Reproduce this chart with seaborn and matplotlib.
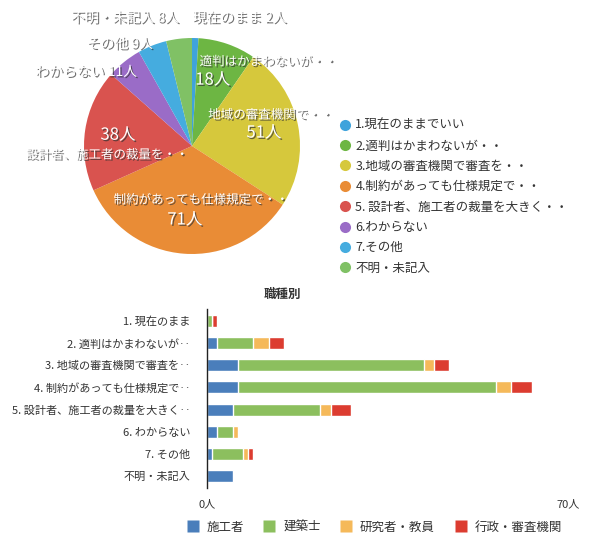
import numpy as np
import pandas as pd
import seaborn as sns
import matplotlib.pyplot as plt
import matplotlib.patheffects as pe
from matplotlib.lines import Line2D

# pie: answers
pie_labels = ['1.現在のままでいい', '2.適判はかまわないが・・', '3.地域の審査機関で審査を・・',
              '4.制約があっても仕様規定で・・', '5. 設計者、施工者の裁量を大きく・・',
              '6.わからない', '7.その他', '不明・未記入']
pie_values = [2, 18, 51, 71, 38, 11, 9, 8]
pie_colors = ['#3fa3dc', '#6db643', '#d6c83c', '#e98c36', '#d9534f', '#9a6cc7', '#45acdf', '#80c165']

# bar: answers by occupation
bar_cats = ['1. 現在のまま', '2. 適判はかまわないが‥', '3. 地域の審査機関で審査を‥',
            '4. 制約があっても仕様規定で‥', '5. 設計者、施工者の裁量を大きく‥',
            '6. わからない', '7. その他', '不明・未記入']
jobs = ['施工者', '建築士', '研究者・教員', '行政・審査機関']
builder = [0, 2, 6, 6, 5, 2, 1, 5]
architect = [1, 7, 36, 50, 17, 3, 6, 0]
researcher = [0, 3, 2, 3, 2, 1, 1, 0]
admin = [1, 3, 3, 4, 4, 0, 1, 0]
job_colors = ['#4a7ebb', '#8cbf5e', '#f5b95a', '#dc3c30']

sns.set_theme(style='white')
plt.rcParams['font.family'] = ['Noto Sans CJK JP', 'DejaVu Sans']

fig = plt.figure(figsize=(5.9, 5.54), dpi=100)

# ---- pie ----
ax1 = fig.add_axes([84 / 590, (554 - 146 - 108) / 554, 216 / 590, 216 / 554])
ax1.pie(pie_values, colors=pie_colors, startangle=90, counterclock=False,
        wedgeprops=dict(linewidth=0))
ax1.set_xlim(-1, 1)
ax1.set_ylim(-1, 1)
ax1.set_aspect('equal')
ax1.axis('off')

shadow = [pe.SimplePatchShadow(offset=(1, -1), shadow_rgbFace='#333333', alpha=0.7), pe.Normal()]
pie_texts = [
    ('現在のまま 2人', 0.44, 1.185, 'center', 10),
    ('不明・未記入 8人', -0.62, 1.185, 'center', 10),
    ('その他 9人', -0.67, 0.944, 'center', 10),
    ('わからない 11人', -0.98, 0.685, 'center', 10),
    ('適判はかまわないが・・', 0.07, 0.78, 'left', 9),
    ('18人', 0.03, 0.61, 'left', 12),
    ('地域の審査機関で・・', 0.15, 0.287, 'left', 9),
    ('51人', 0.667, 0.12, 'center', 12),
    ('38人', -0.685, 0.10, 'center', 12),
    ('設計者、施工者の裁量を・・', -0.787, -0.083, 'center', 9),
    ('制約があっても仕様規定で・・', 0.083, -0.5, 'center', 9),
    ('71人', -0.065, -0.685, 'center', 12),
]
for txt, x, y, ha, fs in pie_texts:
    ax1.text(x, y, txt, ha=ha, va='center', fontsize=fs, color='white',
             path_effects=shadow)

handles = [Line2D([0], [0], marker='o', linestyle='', markersize=8,
                  markerfacecolor=c, markeredgecolor='none') for c in pie_colors]
fig.legend(handles, pie_labels, loc='upper left', bbox_to_anchor=(334 / 590, 1 - 114 / 554),
           frameon=False, fontsize=9, labelspacing=0.59, handletextpad=0.3,
           handlelength=1.0, borderaxespad=0, labelcolor='#333333')

# ---- stacked bar ----
ax2 = fig.add_axes([207 / 590, 66 / 554, 361 / 590, 179 / 554])
df = pd.DataFrame({'cat': bar_cats, '施工者': builder, '建築士': architect,
                   '研究者・教員': researcher, '行政・審査機関': admin})
cum = df[jobs].cumsum(axis=1)
for job, col in reversed(list(zip(jobs, job_colors))):
    sns.barplot(x=cum[job], y=df['cat'], orient='h', color=col, width=0.54,
                saturation=1, ax=ax2)
ax2.set_xlim(0, 70)
ax2.set_ylim(7.53, -0.53)
ax2.set_xticks([0, 70])
ax2.set_xticklabels(['0人', '70人'])
ax2.set_xlabel('')
ax2.set_ylabel('')
ax2.tick_params(axis='both', length=0, labelsize=8, colors='#333333')
ax2.tick_params(axis='x', pad=8)
ax2.tick_params(axis='y', pad=12)
for s in ['top', 'right', 'bottom']:
    ax2.spines[s].set_visible(False)
ax2.spines['left'].set_color('#222222')
ax2.spines['left'].set_linewidth(1)
fig.text(282 / 590, 1 - 294 / 554, '職種別', ha='center', va='center', fontsize=9,
         fontweight='bold', color='#333333')

bh = [Line2D([0], [0], marker='s', linestyle='', markersize=8,
             markerfacecolor=c, markeredgecolor='none') for c in job_colors]
fig.legend(bh, jobs, loc='center', bbox_to_anchor=(374 / 590, 1 - 527 / 554), ncol=4,
           frameon=False, fontsize=9, handletextpad=0.6, columnspacing=1.55,
           handlelength=1.0, labelcolor='#333333')

fig.savefig('out.png', dpi=100)
